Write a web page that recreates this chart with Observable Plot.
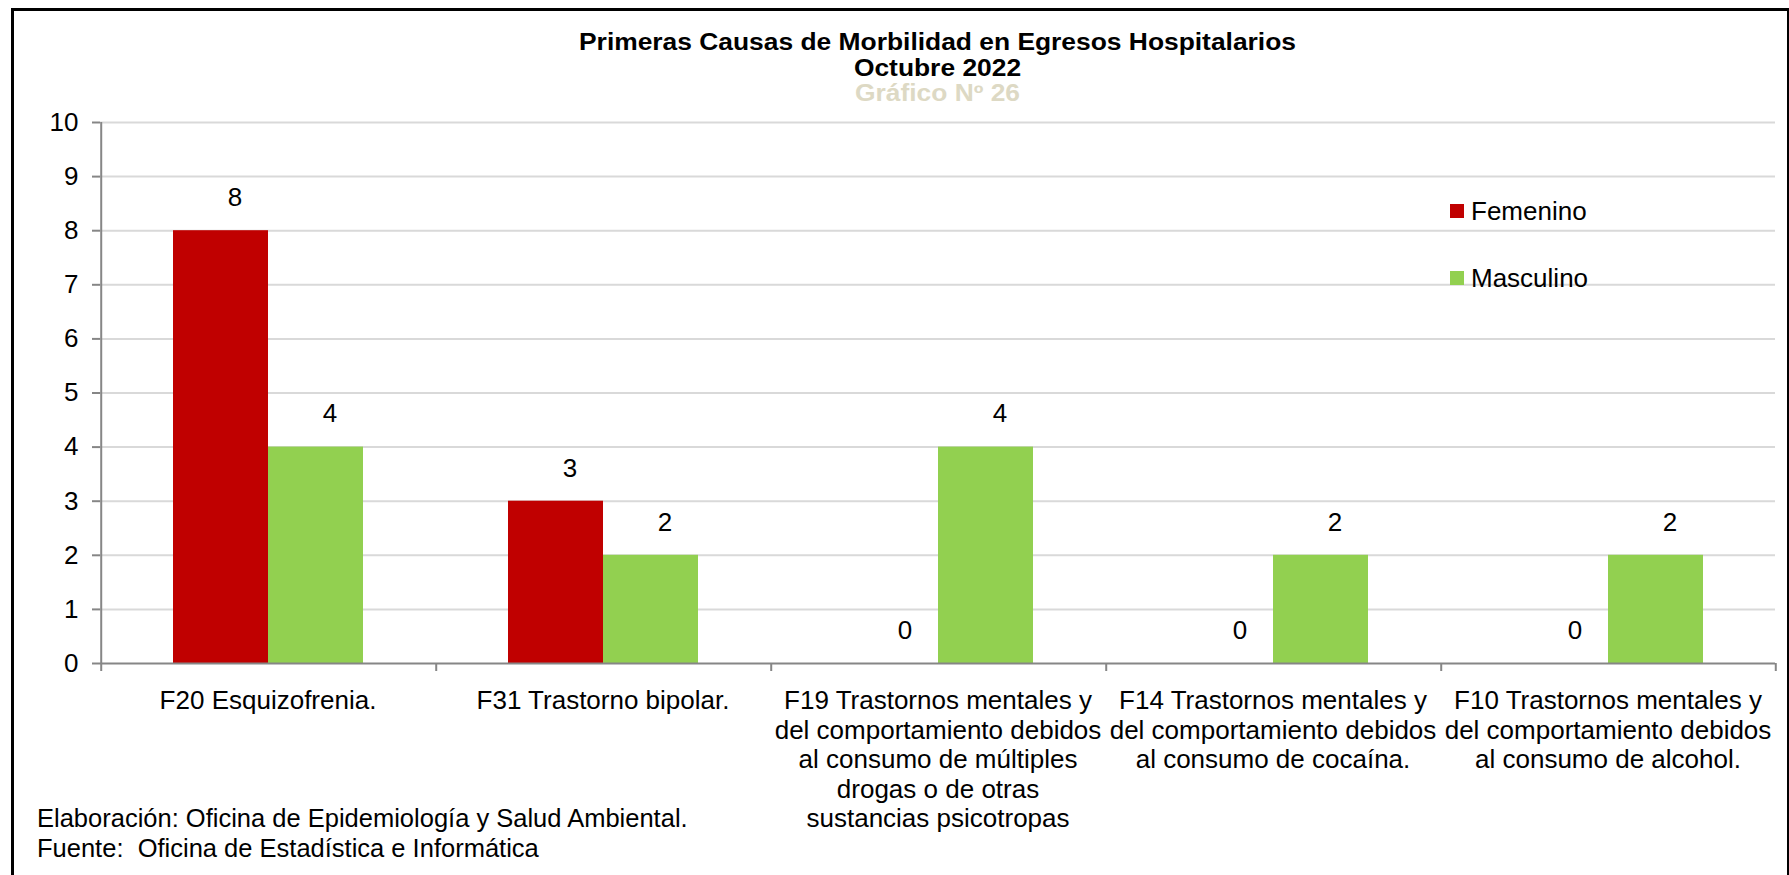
<!DOCTYPE html>
<html>
<head>
<meta charset="utf-8">
<script src="https://cdn.jsdelivr.net/npm/d3@7"></script>
<script src="https://cdn.jsdelivr.net/npm/@observablehq/plot@0.6"></script>
<style>
  html, body { margin: 0; padding: 0; background: #fff; }
  body { width: 1789px; height: 875px; overflow: hidden; position: relative;
         font-family: "Liberation Sans", Arial, sans-serif; color: #000; }
  #frame { position: absolute; left: 11px; top: 8px; width: 1778px; height: 900px;
           border-left: 3px solid #000; border-top: 3px solid #000; border-right: 2px solid #000;
           box-sizing: border-box; }
  #chart { position: absolute; left: 0; top: 0; }
  #title { position: absolute; left: 99px; width: 1677px; top: 30px; text-align: center;
           font-weight: bold; font-size: 23px; line-height: 25.6px;
           transform: scaleX(1.147); transform-origin: 838.5px 0; }
  #title .sub { color: #DDD9C4; }
  #legend { position: absolute; left: 1450px; top: 196px; font-size: 26px; }
  #legend .row { display: flex; align-items: center; height: 30px; margin-bottom: 37px; }
  #legend .sw { width: 14px; height: 14px; margin-right: 7px; }
  #footer { position: absolute; left: 37px; top: 803px; font-size: 25.5px; line-height: 30px; white-space: pre; }
</style>
</head>
<body>
<div id="frame"></div>
<div id="chart"></div>
<div id="title"></div>
<div id="legend"></div>
<div id="footer"></div>
<script>
// ---- data ----
const titleLines = ["Primeras Causas de Morbilidad en Egresos Hospitalarios", "Octubre 2022", "Gráfico Nº 26"];
const categories = [
  "F20 Esquizofrenia.",
  "F31 Trastorno bipolar.",
  "F19 Trastornos mentales y\ndel comportamiento debidos\nal consumo de múltiples\ndrogas o de otras\nsustancias psicotropas",
  "F14 Trastornos mentales y\ndel comportamiento debidos\nal consumo de cocaína.",
  "F10 Trastornos mentales y\ndel comportamiento debidos\nal consumo de alcohol."
];
const series = ["Femenino", "Masculino"];
const femenino = [8, 3, 0, 0, 0];
const masculino = [4, 2, 4, 2, 2];
const colors = ["#C00000", "#92D050"];
const yTicks = [0, 1, 2, 3, 4, 5, 6, 7, 8, 9, 10];
const footerLines = ["Elaboración: Oficina de Epidemiología y Salud Ambiental.", "Fuente:  Oficina de Estadística e Informática"];

// ---- table ----
const data = categories.flatMap((c, i) => [
  {cat: c, serie: series[0], value: femenino[i]},
  {cat: c, serie: series[1], value: masculino[i]}
]);

const W = 1789, H = 875, mL = 99, mR = 13, mT = 122, mB = 212;
const outer = 0.75;
const facetW = (W - mL - mR) / categories.length;
const step = facetW / (series.length + 2 * outer);
const edgeOffset = outer * step + step / 2; // from first band centre to facet edge

const font = "Liberation Sans, Arial, sans-serif";
const chart = Plot.plot({
  width: W, height: H,
  marginTop: mT, marginBottom: mB, marginLeft: mL, marginRight: mR,
  style: {background: "transparent", fontFamily: font, fontSize: "26px", color: "#000", overflow: "visible"},
  fx: {domain: categories, padding: 0, axis: null},
  x: {domain: series, paddingInner: 0, paddingOuter: outer, axis: null},
  y: {domain: [0, 10]},
  color: {domain: series, range: colors},
  marks: [
    Plot.ruleY(yTicks.filter(d => d > 0), {stroke: "#D9D9D9", strokeWidth: 2}),
    Plot.barY(data, {fx: "cat", x: "serie", y: "value", fill: "serie"}),
    Plot.text(data, {fx: "cat", x: "serie", y: "value", text: d => String(d.value), dx: 14, dy: -33, fontSize: 26, fill: "#000"}),
    Plot.ruleY([0], {stroke: "#868686", strokeWidth: 2}),
    // y axis line (first facet only)
    Plot.ruleX([categories[0]], {fx: d => d, x: () => series[0], y1: 0, y2: 10, dx: -edgeOffset, stroke: "#868686", strokeWidth: 2}),
    // category boundary ticks
    Plot.ruleX(categories, {fx: d => d, x: () => series[0], y1: 0, y2: 0, insetBottom: -8, dx: -edgeOffset, stroke: "#868686", strokeWidth: 2}),
    Plot.ruleX([categories[categories.length - 1]], {fx: d => d, x: () => series[1], y1: 0, y2: 0, insetBottom: -8, dx: edgeOffset, stroke: "#868686", strokeWidth: 2}),
    Plot.axisY({ticks: yTicks, tickSize: 8, tickPadding: 14, stroke: "#868686", strokeWidth: 2, fill: "#000", fontSize: 26, label: null}),
    Plot.text(categories, {fx: d => d, text: d => d, frameAnchor: "bottom", lineAnchor: "top", dy: 25, lineHeight: 1.135, fontSize: 26, fill: "#000"})
  ]
});
document.getElementById("chart").appendChild(chart);

// title
const t = document.getElementById("title");
titleLines.forEach((s, i) => {
  const d = document.createElement("div");
  d.textContent = s;
  if (i === 2) d.className = "sub";
  t.appendChild(d);
});

// legend
const lg = document.getElementById("legend");
series.forEach((s, i) => {
  const r = document.createElement("div"); r.className = "row";
  const sw = document.createElement("div"); sw.className = "sw"; sw.style.background = colors[i];
  const lb = document.createElement("span"); lb.textContent = s;
  r.appendChild(sw); r.appendChild(lb); lg.appendChild(r);
});

// footer
document.getElementById("footer").textContent = footerLines.join("\n");
</script>
</body>
</html>
